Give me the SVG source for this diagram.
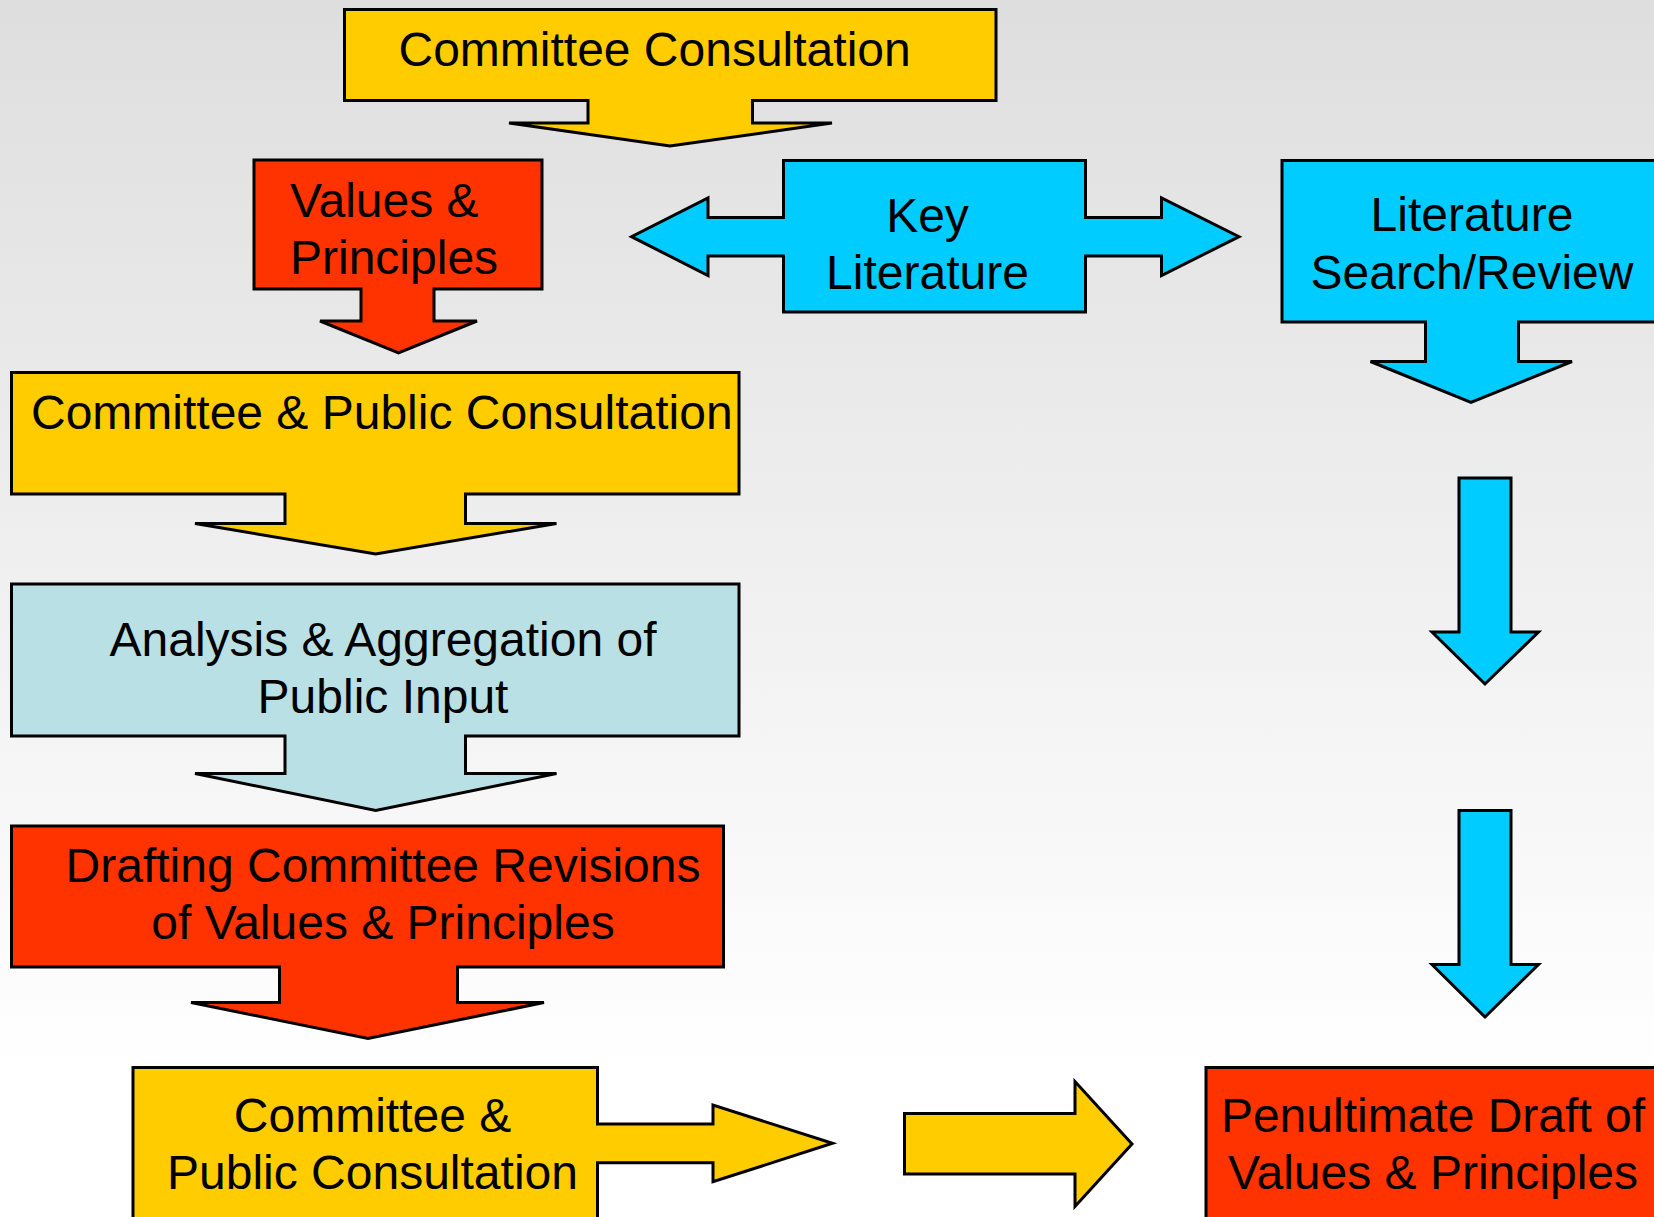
<svg xmlns="http://www.w3.org/2000/svg" width="1654" height="1217" viewBox="0 0 1654 1217">
<defs>
<linearGradient id="bg" x1="0" y1="0" x2="0" y2="1">
<stop offset="0" stop-color="#dedede"/>
<stop offset="0.88" stop-color="#ffffff"/>
<stop offset="1" stop-color="#ffffff"/>
</linearGradient>
<style>
.s{stroke:#000;stroke-width:3;stroke-linejoin:miter}
.y{fill:#ffcc00}
.r{fill:#ff3300}
.c{fill:#00ccff}
.l{fill:#b9e0e4}
text{font-family:"Liberation Sans",Arial,sans-serif;font-size:48px;fill:#000}
.m{text-anchor:middle}
</style>
</defs>
<rect x="0" y="0" width="1654" height="1217" fill="url(#bg)"/>
<g id="committee-consultation">
<path class="s y" d="M344.5,9.5 H996 V100.5 H752.5 V123 H832 L670,146 L509,123 H588 V100.5 H344.5 Z"/>
<text class="m" x="654.6" y="66">Committee Consultation</text>
</g>
<g id="values-principles">
<path class="s r" d="M254,160 H542 V289 H434 V321 H477 L398.5,353 L320,321 H361 V289 H254 Z"/>
<text x="290" y="217">Values &amp;</text>
<text x="290" y="274">Principles</text>
</g>
<g id="key-literature">
<path class="s c" d="M783.5,160.5 H1085.5 V217.5 H1161.5 V198 L1239,236.7 L1161.5,275.5 V256 H1085.5 V312 H783.5 V256 H708 V275.5 L631.5,236.7 L708,198 V217.5 H783.5 Z"/>
<text class="m" x="927.5" y="231.7">Key</text>
<text class="m" x="927.5" y="289">Literature</text>
</g>
<g id="literature-search">
<path class="s c" d="M1282,160.5 H1662 V322 H1518.5 V361.5 H1572 L1471,402.5 L1370.5,361.5 H1425.5 V322 H1282 Z"/>
<text class="m" x="1472" y="231">Literature</text>
<text class="m" x="1472" y="289.3">Search/Review</text>
</g>
<g id="committee-public-consultation-1">
<path class="s y" d="M11.5,372.5 H739 V494 H465.5 V523.5 H556.5 L375.7,554 L195,523.5 H285 V494 H11.5 Z"/>
<text class="m" x="381.8" y="429">Committee &amp; Public Consultation</text>
</g>
<g id="analysis-aggregation">
<path class="s l" d="M11.5,584 H739 V736 H465.5 V773.5 H556.5 L375.7,810.5 L195,773.5 H285 V736 H11.5 Z"/>
<text class="m" x="383" y="656">Analysis &amp; Aggregation of</text>
<text class="m" x="383" y="712.7">Public Input</text>
</g>
<g id="drafting-revisions">
<path class="s r" d="M11.5,826 H723.5 V967 H457.5 V1002.5 H544 L368,1038.5 L191,1002.5 H279.5 V967 H11.5 Z"/>
<text class="m" x="383" y="881.7">Drafting Committee Revisions</text>
<text class="m" x="383" y="939">of Values &amp; Principles</text>
</g>
<g id="committee-public-consultation-2">
<path class="s y" d="M133,1067.5 H597.5 V1124 H713 V1105 L832.5,1143.3 L713,1181.7 V1162.7 H597.5 V1225 H133 Z"/>
<text class="m" x="372.5" y="1131.7">Committee &amp;</text>
<text class="m" x="372.5" y="1189.3">Public Consultation</text>
</g>
<g id="penultimate-draft">
<path class="s r" d="M1206,1067.5 H1662 V1225 H1206 Z"/>
<text class="m" x="1433" y="1132">Penultimate Draft of</text>
<text class="m" x="1433" y="1189">Values &amp; Principles</text>
</g>
<g id="connectors">
<path class="s c" d="M1459,478 H1511 V632 H1538.5 L1485,684 L1432,632 H1459 Z"/>
<path class="s c" d="M1459,810.5 H1511 V964.5 H1538.5 L1485,1017 L1432,964.5 H1459 Z"/>
<path class="s y" d="M904.5,1113.5 H1075 V1081.5 L1132,1144 L1075,1206.5 V1174 H904.5 Z"/>
</g>
</svg>
